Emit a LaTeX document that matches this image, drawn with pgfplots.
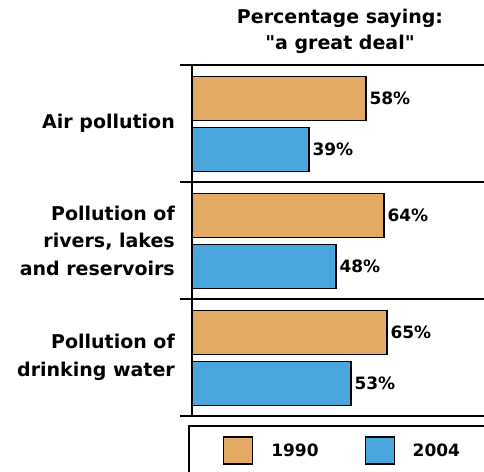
\documentclass[border=0pt]{standalone}
\usepackage{fontspec}
\setmainfont{DejaVu Sans}
\usepackage{pgfplots}
\pgfplotsset{compat=1.18}

\definecolor{bar1990}{HTML}{E3AA63}
\definecolor{bar2004}{HTML}{4BA6DE}

\newcommand{\titlefont}{\fontsize{19}{26}\selectfont\bfseries}
\newcommand{\catfont}{\fontsize{19}{27.5}\selectfont\bfseries}
\newcommand{\valfont}{\fontsize{17}{20}\selectfont\bfseries}
\newcommand{\legfont}{\fontsize{17}{20}\selectfont\bfseries}

% square swatch for the legend
\pgfplotsset{boxlegend/.style={legend image code/.code={%
  \draw[##1, line width=1.1pt] (0pt,-13.5pt) rectangle (29pt,13.5pt);}}}

\begin{document}
\begin{tikzpicture}
\path[use as bounding box] (0pt,0pt) rectangle (484pt,-471pt);
\clip (0pt,0pt) rectangle (484pt,-471pt);

\node[align=center, font=\titlefont] at (340pt,-31pt)
  {Percentage saying:\\\textquotedbl a great deal\textquotedbl};

\begin{axis}[
  at={(180pt,-416pt)}, anchor=south west,
  scale only axis, width=312pt, height=351pt,
  xmin=-4, xmax=100, ymin=-0.5, ymax=2.5, y dir=reverse,
  xbar, bar width=44pt,
  axis line style={draw=none},
  xtick=\empty, ytick={0,1,2}, major tick length=0pt,
  yticklabels={Air pollution, {Pollution of\\rivers, lakes\\and reservoirs}, {Pollution of\\drinking water}},
  yticklabel style={align=right, font=\catfont, inner sep=0pt, xshift=-5pt},
  clip=false,
  point meta=x,
  nodes near coords={\pgfmathprintnumber[assume math mode=true]{\pgfplotspointmeta}\%},
  every node near coord/.append style={font=\valfont, inner sep=0pt, xshift=3pt},
  legend columns=2,
  legend style={at={(axis description cs:0.1378,-0.0983)}, anchor=west,
    draw=none, fill=none, inner sep=0pt, font=\legfont, nodes={inner sep=0pt},
    /tikz/every odd column/.append style={column sep=18pt},
    /tikz/every even column/.append style={column sep=46pt}},
]
% separators between the three topics, and the value axis
\draw[line width=1.4pt] (axis cs:-4,-0.5) -- (axis cs:100,-0.5);
\draw[line width=1.4pt] (axis cs:-4,0.5) -- (axis cs:100,0.5);
\draw[line width=1.4pt] (axis cs:-4,1.5) -- (axis cs:100,1.5);
\draw[line width=1.4pt] (axis cs:-4,2.5) -- (axis cs:100,2.5);
\draw[line width=1.3pt] (axis cs:0,-0.5) -- (axis cs:0,2.5);

\addplot[fill=bar1990, draw=black, line width=1.1pt, bar shift=25pt, boxlegend]
  coordinates {(58,0) (64,1) (65,2)};
\addlegendentry{1990}
\addplot[fill=bar2004, draw=black, line width=1.1pt, bar shift=-26pt, boxlegend]
  coordinates {(39,0) (48,1) (53,2)};
\addlegendentry{2004}

% frame around the legend
\draw[line width=1.5pt] (axis cs:-1,2.5855) rectangle (axis cs:110,3.6);
\end{axis}
\end{tikzpicture}
\end{document}
